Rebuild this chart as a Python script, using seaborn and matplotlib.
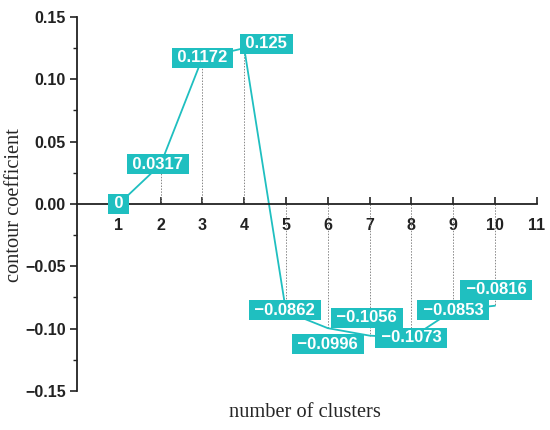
import numpy as np
import pandas as pd
import seaborn as sns
import matplotlib
matplotlib.use('Agg')
import matplotlib.pyplot as plt
from matplotlib.ticker import MultipleLocator, FuncFormatter

clusters = [1, 2, 3, 4, 5, 6, 7, 8, 9, 10]
coef = [0, 0.0317, 0.1172, 0.125, -0.0862, -0.0996, -0.1056, -0.1073, -0.0853, -0.0816]
labels = ["0", "0.0317", "0.1172", "0.125", "\u22120.0862", "\u22120.0996",
          "\u22120.1056", "\u22120.1073", "\u22120.0853", "\u22120.0816"]

TEAL = "#1fbfc0"
SANS = ['Liberation Sans', 'DejaVu Sans']
# label offsets in points (dx, dy) and horizontal alignment
offsets = [(0, 0, 'center'), (-2, 0, 'center'), (0, 0, 'center'), (-1.5, 3, 'left'),
           (-1, 1, 'center'), (0, -11.5, 'center'), (-2, 13, 'center'),
           (0, 0, 'center'), (0, 0, 'center'), (1, 11.5, 'center')]

sns.set_style("white")
df = pd.DataFrame({'clusters': clusters, 'coef': coef})

fig = plt.figure(figsize=(5.5, 4.3), dpi=100)
ax = fig.add_axes([0.14, 0.0907, 0.836, 0.8698])

# dotted drop lines from the axis to each point
for x, y in zip(clusters[1:], coef[1:]):
    ax.plot([x, x], [0, y], color='#888888', lw=0.7, ls=(0, (1.5, 1.5)), zorder=1)

sns.lineplot(data=df, x='clusters', y='coef', color=TEAL, lw=1.3, ax=ax, zorder=2)

for x, y, lab, (dx, dy, ha) in zip(clusters, coef, labels, offsets):
    ax.annotate("\u2009" + lab + "\u2009", (x, y), xytext=(dx, dy),
                textcoords='offset points', ha=ha, va='center', color='white',
                fontweight='bold', fontsize=12, family=SANS,
                bbox=dict(boxstyle='square,pad=0.15', fc=TEAL, ec='none'), zorder=3)

ax.set_xlim(0, 11)
ax.set_ylim(-0.15, 0.15)
ax.spines['right'].set_visible(False)
ax.spines['top'].set_visible(False)
ax.spines['bottom'].set_position(('data', 0))
for s in ['left', 'bottom']:
    ax.spines[s].set_color('#222222')
    ax.spines[s].set_linewidth(1.3)

ax.set_xticks(range(1, 12))
ax.yaxis.set_major_locator(MultipleLocator(0.05))
ax.yaxis.set_minor_locator(MultipleLocator(0.025))
ax.yaxis.set_major_formatter(FuncFormatter(lambda v, p: f"{v:.2f}".replace('-', '\u2212')))
ax.tick_params(axis='y', which='major', direction='out', length=5, width=1.2,
               labelsize=11.5, colors='#222222', left=True, pad=3)
ax.tick_params(axis='y', which='minor', direction='out', length=3, width=1, left=True,
               colors='#222222')
ax.tick_params(axis='x', which='major', direction='in', length=5, width=1.2,
               labelsize=11.5, colors='#222222', bottom=True, pad=10)
for t in ax.get_xticklabels() + ax.get_yticklabels():
    t.set_fontweight('bold')
    t.set_family(SANS)

ax.set_xlabel('number of clusters', family='Liberation Serif', fontsize=14.7,
              va='center', ha='center')
ax.set_ylabel('contour coefficient', family='Liberation Serif', fontsize=14.7,
              va='center', ha='center')
ax.xaxis.set_label_coords(0.496, -0.058)
ax.yaxis.set_label_coords(-0.137, 0.497)
ax.grid(False)

fig.savefig('out.png', dpi=100)
